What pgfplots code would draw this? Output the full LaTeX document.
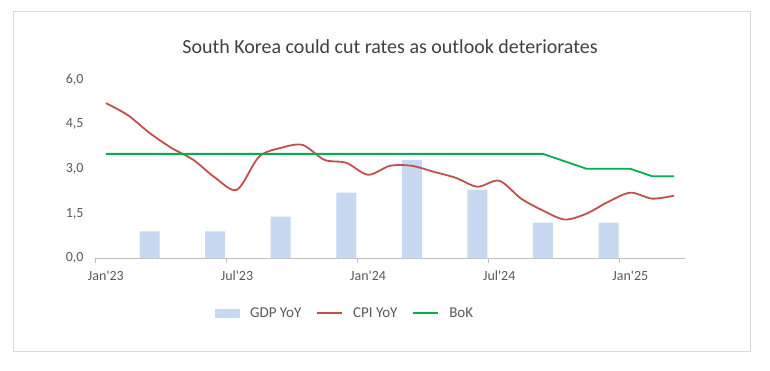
\documentclass[border=0pt]{standalone}
\usepackage{pgfplots}
\pgfplotsset{compat=1.18}
\usepackage{fontspec}
\setmainfont{Carlito}
\definecolor{gdpblue}{HTML}{C6D9F1}
\definecolor{cpired}{HTML}{C0504D}
\definecolor{bokgreen}{HTML}{00B050}
\definecolor{txtgray}{HTML}{595959}
\definecolor{titlegray}{HTML}{404040}
\definecolor{axgray}{HTML}{BFBFBF}
\definecolor{framegray}{HTML}{D9D9D9}
\begin{document}
\begin{tikzpicture}[x=1pt,y=1pt]
\path[use as bounding box] (0,0) rectangle (770,370);
\draw[framegray, line width=0.8pt] (13.3,19) rectangle (750.3,358.7);
\node[text=titlegray, font=\fontsize{20}{24}\selectfont] at (390,323) {South Korea could cut rates as outlook deteriorates};
\begin{axis}[
  at={(95pt,111.7pt)}, anchor=south west,
  scale only axis, width=590pt, height=179pt,
  xmin=-0.5, xmax=26.5, ymin=0, ymax=6,
  axis x line=bottom, axis y line=left,
  x axis line style={axgray, line width=1.3pt, -},
  y axis line style={draw=none},
  xtick={-0.5,5.5,11.5,17.5,23.5},
  xticklabels={Jan\textquotesingle 23,Jul\textquotesingle 23,Jan\textquotesingle 24,Jul\textquotesingle 24,Jan\textquotesingle 25},
  ytick={0,1.5,3,4.5,6},
  tick align=outside,
  xtick style={axgray, line width=1pt},
  ytick style={draw=none},
  major tick length=5pt,
  /pgf/number format/assume math mode=true,
  yticklabel={\pgfmathprintnumber[fixed,fixed zerofill,precision=1,use comma]{\tick}},
  tick label style={font=\fontsize{14}{17}\selectfont, text=txtgray},
  xticklabel style={xshift=10.9pt, yshift=-4pt},
  yticklabel style={xshift=-3pt},
  legend style={at={(0.424,-0.306)}, anchor=center, draw=none, fill=none,
    font=\fontsize{15}{18}\selectfont, text=txtgray,
    /tikz/every odd column/.append style={column sep=8pt},
    /tikz/every even column/.append style={column sep=13pt}},
  legend columns=3,
]
\addplot[ybar, bar width=20pt, fill=gdpblue, draw=none,
  legend image code/.code={\fill[gdpblue] (0pt,-4.5pt) rectangle (25pt,4.5pt);}]
  coordinates {(2,0.9)(5,0.9)(8,1.4)(11,2.2)(14,3.3)(17,2.3)(20,1.2)(23,1.2)};
\addlegendentry{GDP YoY}
\addplot[cpired, line width=1.8pt, smooth, tension=0.5,
  legend image code/.code={\draw[cpired, line width=1.8pt] (0pt,0pt)--(25pt,0pt);}]
  coordinates {(0,5.2)(1,4.8)(2,4.2)(3,3.7)(4,3.3)(5,2.7)(6,2.3)(7,3.4)(8,3.7)(9,3.8)(10,3.3)(11,3.2)(12,2.8)(13,3.1)(14,3.1)(15,2.9)(16,2.7)(17,2.4)(18,2.6)(19,2.0)(20,1.6)(21,1.3)(22,1.5)(23,1.9)(24,2.2)(25,2.0)(26,2.1)};
\addlegendentry{CPI YoY}
\addplot[bokgreen, line width=1.8pt,
  legend image code/.code={\draw[bokgreen, line width=1.8pt] (0pt,0pt)--(25pt,0pt);}]
  coordinates {(0,3.5)(20,3.5)(21,3.25)(22,3.0)(24,3.0)(25,2.75)(26,2.75)};
\addlegendentry{BoK}
\end{axis}
\end{tikzpicture}
\end{document}
